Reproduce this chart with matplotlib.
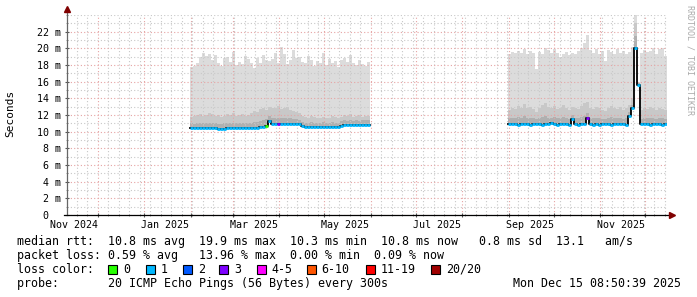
import numpy as np
import pandas as pd
import matplotlib
matplotlib.use('Agg')
import matplotlib.pyplot as plt
import matplotlib.dates as mdates
from matplotlib.ticker import MultipleLocator, FixedLocator, NullFormatter

# 400 day window ending at the graph time
t_end = pd.Timestamp('2025-12-15 08:50:39')
t_start = t_end - pd.Timedelta(days=400)

# first block of data, 2 day steps (ms)
p1_start = '2025-01-31 08:50'
p1_median = [10.45, 10.4, 10.4, 10.4, 10.4, 10.4, 10.4, 10.4, 10.4, 10.35,
             10.35, 10.35, 10.4, 10.4, 10.4, 10.4, 10.4, 10.4, 10.4, 10.4,
             10.4, 10.45, 10.5, 10.6, 10.6, 10.7, 11.3, 10.9, 10.9, 10.9,
             10.9, 10.9, 10.9, 10.9, 10.9, 10.9, 10.9, 10.65, 10.6, 10.6,
             10.6, 10.6, 10.6, 10.6, 10.6, 10.6, 10.6, 10.6, 10.6, 10.6,
             10.7, 10.8, 10.75, 10.85, 10.75, 10.8, 10.75, 10.85, 10.85, 10.85]
p1_top = [17.8, 17.9, 18.3, 19.0, 19.4, 19.1, 19.3, 18.6, 19.2, 18.2,
          17.9, 18.8, 19.0, 18.4, 19.6, 18.0, 18.4, 18.1, 19.1, 18.7,
          18.2, 17.7, 18.9, 18.3, 19.2, 18.6, 18.5, 18.7, 19.5, 18.3,
          20.2, 19.3, 18.1, 18.6, 19.8, 18.9, 19.0, 18.4, 18.2, 19.1,
          18.6, 17.9, 18.5, 18.3, 19.4, 18.0, 18.7, 18.2, 18.5, 17.8,
          18.6, 18.9, 18.4, 19.2, 18.3, 18.0, 18.6, 18.1, 17.9, 18.4]
p1_mid = [11.8, 11.9, 12.0, 12.1, 11.9, 12.0, 12.2, 12.1, 11.9, 12.0,
          11.8, 11.9, 12.1, 12.0, 12.2, 11.9, 12.0, 12.1, 11.9, 12.0,
          12.3, 12.5, 12.4, 12.7, 12.9, 12.6, 13.0, 12.8, 12.9, 13.1,
          12.7, 12.8, 13.0, 12.6, 12.5, 12.4, 12.2, 11.9, 11.8, 11.7,
          11.9, 11.8, 11.6, 11.7, 11.8, 11.6, 11.7, 11.9, 11.8, 11.7,
          11.8, 12.0, 11.9, 12.1, 11.8, 11.9, 12.0, 11.8, 11.9, 11.9]
p1_low = [11.0, 10.9, 11.0, 11.1, 11.0, 11.0, 11.1, 11.0, 11.0, 10.9,
          10.9, 11.0, 11.0, 11.0, 11.1, 11.0, 11.0, 11.0, 11.0, 11.1,
          11.1, 11.2, 11.2, 11.3, 11.4, 11.5, 11.9, 11.6, 11.7, 11.7,
          11.6, 11.6, 11.7, 11.6, 11.5, 11.5, 11.4, 11.2, 11.1, 11.1,
          11.2, 11.1, 11.1, 11.1, 11.2, 11.1, 11.1, 11.2, 11.1, 11.1,
          11.3, 11.4, 11.3, 11.4, 11.3, 11.4, 11.3, 11.4, 11.4, 11.4]
p1_loss = [1, 1, 1, 1, 1, 1, 1, 1, 1, 1,
           1, 1, 1, 1, 1, 1, 1, 1, 1, 1,
           1, 1, 1, 1, 1, 0, 1, 1, 1, 3,
           1, 1, 1, 1, 1, 1, 1, 1, 1, 1,
           1, 1, 1, 1, 1, 1, 1, 1, 1, 1,
           1, 1, 1, 1, 1, 1, 1, 1, 1, 1]

# second block of data
p2_start = '2025-08-31 08:50'
p2_median = [10.9, 10.95, 10.9, 10.85, 10.9, 10.95, 10.9, 10.85, 10.9, 10.9,
             10.95, 10.85, 10.9, 10.9, 11.0, 10.9, 10.85, 10.9, 10.95, 10.9,
             10.85, 11.5, 10.9, 10.85, 10.9, 10.95, 11.6, 10.9, 10.85, 10.9,
             10.85, 10.9, 10.95, 10.9, 10.85, 10.9, 10.95, 10.9, 10.9, 10.85,
             11.9, 12.8, 20.0, 15.6, 10.9, 10.95, 10.9, 10.85, 10.9, 10.95,
             10.9, 10.85, 10.9]
p2_top = [19.3, 19.6, 19.4, 19.7, 19.5, 19.9, 19.3, 19.7, 19.4, 17.5,
          19.6, 19.3, 20.1, 19.8, 19.4, 19.9, 19.5, 19.0, 19.3, 19.6,
          19.2, 19.5, 19.3, 19.7, 20.1, 20.7, 21.6, 19.8, 19.5, 19.9,
          19.3, 19.7, 18.5, 19.8, 19.6, 19.3, 19.9, 19.4, 19.7, 19.3,
          19.6, 20.2, 24.0, 16.0, 19.4, 19.8, 19.6, 19.7, 20.0, 19.3,
          19.9, 20.1, 19.1]
p2_mid = [12.6, 12.9, 12.7, 13.1, 12.8, 13.3, 12.9, 13.0, 12.7, 12.4,
          12.8, 13.2, 13.5, 13.0, 12.8, 13.1, 12.7, 12.9, 13.2, 12.8,
          12.6, 13.0, 12.8, 12.7, 13.1, 13.4, 13.6, 12.9, 12.7, 13.0,
          12.8, 12.6, 12.5, 12.9, 13.1, 12.8, 12.7, 13.0, 12.6, 12.8,
          13.2, 14.0, 23.0, 15.9, 12.6, 12.9, 12.7, 13.0, 12.8, 12.6,
          12.9, 12.7, 12.6]
p2_low = [11.6, 11.7, 11.6, 11.8, 11.6, 11.9, 11.7, 11.7, 11.6, 11.5,
          11.6, 11.8, 11.9, 11.7, 11.6, 11.8, 11.6, 11.7, 11.8, 11.6,
          11.5, 12.0, 11.6, 11.6, 11.8, 11.9, 12.3, 11.7, 11.6, 11.7,
          11.6, 11.5, 11.5, 11.6, 11.8, 11.6, 11.6, 11.7, 11.5, 11.6,
          12.4, 13.2, 21.5, 15.8, 11.5, 11.7, 11.6, 11.7, 11.6, 11.5,
          11.7, 11.6, 11.5]
p2_loss = [1, 1, 1, 1, 1, 1, 1, 1, 1, 1,
           1, 1, 1, 1, 1, 1, 1, 1, 1, 1,
           1, 1, 1, 1, 1, 1, 3, 1, 1, 1,
           1, 1, 1, 1, 1, 1, 1, 1, 1, 1,
           1, 1, 1, 1, 1, 1, 1, 1, 1, 1,
           1, 1, 1]

# loss colour legend
loss_labels = ['0', '1', '2', '3', '4-5', '6-10', '11-19', '20/20']
loss_colors = ['#26ff00', '#00b8ff', '#0059ff', '#7e00ff', '#ff00ff',
               '#ff5500', '#ff0000', '#a00000']

month_labels = ['Nov 2024', 'Jan 2025', 'Mar 2025', 'May 2025',
                'Jul 2025', 'Sep 2025', 'Nov 2025']
ytick_vals = [0, 2, 4, 6, 8, 10, 12, 14, 16, 18, 20, 22]

plt.rcParams['font.family'] = 'DejaVu Sans Mono'

W, H = 697, 297
fig = plt.figure(figsize=(W / 100, H / 100), dpi=100)
ax = fig.add_axes([67 / W, 1 - 215 / H, 600 / W, 200 / H])


def draw_period(start, median, top, mid, low, loss):
    edges = pd.date_range(start, periods=len(median) + 1, freq='2D')
    xe = mdates.date2num(edges.to_pydatetime())
    med = np.array(median + median[-1:], dtype=float)
    for upper, col in ((top, '#dcdcdc'), (mid, '#c8c8c8'), (low, '#b0b0b0')):
        ax.fill_between(xe, med, np.array(upper + upper[-1:]), step='post',
                        color=col, lw=0, zorder=2)
    ax.step(xe, med, where='post', color='black', lw=1.3, zorder=3)
    ax.hlines(median, xe[:-1], xe[1:], colors=[loss_colors[k] for k in loss],
              lw=2.0, zorder=4)


draw_period(p1_start, p1_median, p1_top, p1_mid, p1_low, p1_loss)
draw_period(p2_start, p2_median, p2_top, p2_mid, p2_low, p2_loss)

ax.set_xlim(mdates.date2num(t_start.to_pydatetime()), mdates.date2num(t_end.to_pydatetime()))
ax.set_ylim(0, 24)

# grid
ax.xaxis.set_major_locator(mdates.MonthLocator())
ax.xaxis.set_minor_locator(mdates.WeekdayLocator(byweekday=mdates.SU))
ax.xaxis.set_major_formatter(NullFormatter())
ax.yaxis.set_major_locator(FixedLocator(ytick_vals))
ax.yaxis.set_minor_locator(MultipleLocator(1))
ax.set_yticklabels(['0  ' if v == 0 else f'{v} m' for v in ytick_vals])
ax.grid(which='major', color='#e6a3a3', ls=(0, (1, 2)), lw=0.8, zorder=1)
ax.grid(which='minor', color='#c8c8c8', ls=(0, (1, 2)), lw=0.8, zorder=1)
ax.set_axisbelow(False)
for gl in ax.get_xgridlines() + ax.get_ygridlines():
    gl.set_zorder(5)
ax.tick_params(which='major', length=3, direction='inout', color='#555555',
               labelsize=7.2, pad=3)
ax.tick_params(which='minor', length=2, direction='inout', color='#888888')
for s in ax.spines.values():
    s.set_visible(False)

# month labels centred mid-month
for lab in month_labels:
    d = pd.Timestamp('15 ' + lab)
    ax.text(mdates.date2num(d.to_pydatetime()), -0.05, lab,
            transform=ax.get_xaxis_transform(), ha='center', va='center',
            fontsize=7.2)

# axes with arrows
ax.plot([0, 0], [0, 1.03], transform=ax.transAxes, color='#666666', lw=0.9,
        clip_on=False, zorder=6)
ax.plot([-0.005, 1.005], [0, 0], transform=ax.transAxes, color='black', lw=0.9,
        clip_on=False, zorder=6)
ax.plot([0], [1.03], transform=ax.transAxes, marker='^', ms=4, color='#800000',
        clip_on=False, zorder=7)
ax.plot([1.008], [0], transform=ax.transAxes, marker='>', ms=4, color='#800000',
        clip_on=False, zorder=7)

fig.text(10 / W, 1 - 113 / H, 'Seconds', rotation=90, ha='center', va='center',
         fontsize=8)
fig.text(690 / W, 1 - 5 / H, 'RRDTOOL / TOBI OETIKER', rotation=270,
         ha='center', va='top', fontsize=6, color='#aaaaaa')

# legend text block
fs = 8.4
rows = ['median rtt:  10.8 ms avg  19.9 ms max  10.3 ms min  10.8 ms now   0.8 ms sd  13.1   am/s',
        'packet loss: 0.59 % avg   13.96 % max  0.00 % min  0.09 % now',
        'loss color:',
        'probe:       20 ICMP Echo Pings (56 Bytes) every 300s']
for i, r in enumerate(rows):
    fig.text(16.7 / W, 1 - (245 + 14 * i) / H, r, fontsize=fs, va='baseline')
fig.text(513 / W, 1 - 287 / H, 'Mon Dec 15 08:50:39 2025', fontsize=fs,
         va='baseline')

box_x = [108.3, 145.7, 182.7, 219.3, 256.7, 306.7, 365.8, 430.7]
for bx, lab, col in zip(box_x, loss_labels, loss_colors):
    fig.patches.append(plt.Rectangle((bx / W, 1 - 274 / H), 9 / W, 9 / H,
                                     transform=fig.transFigure, facecolor=col,
                                     edgecolor='black', lw=0.8))
    fig.text((bx + 15) / W, 1 - 273 / H, lab, fontsize=fs, va='baseline')

fig.savefig('out.png', dpi=100)
